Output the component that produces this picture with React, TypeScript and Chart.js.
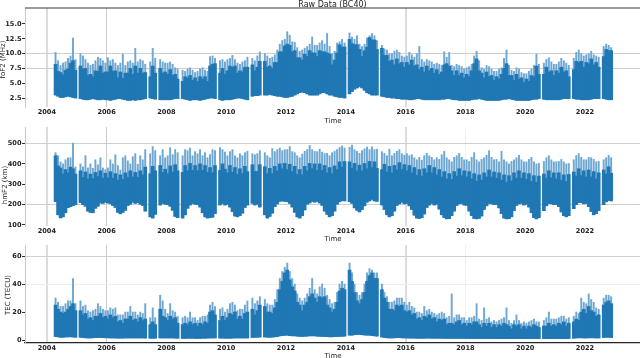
import React, { useEffect, useRef } from 'react';
import { Chart, registerables } from 'chart.js';

Chart.register(...registerables);

// ---------- categories / ticks ----------
const FIRST_YEAR = 2004;
const FIRST_MONTH = 4; // April 2004, monthly bins through Nov 2022
const YEAR_TICKS = [2004, 2006, 2008, 2010, 2012, 2014, 2016, 2018, 2020, 2022];
const FO_TICKS = [2.5, 5, 7.5, 10, 12.5, 15];
const HM_TICKS = [100, 200, 300, 400, 500];
const TEC_TICKS = [0, 20, 40, 60];

// ---------- foF2 (MHz): monthly low / dense top / spike top ----------
const FO_LO = [
  3.0, 2.8, 2.6, 2.6, 2.7, 2.8, 2.7, 2.6, 2.5,
  null, 2.4, 2.3, 2.2, 2.2, 2.3, 2.4, 2.3, 2.2, 2.2, 2.3, 2.2,
  2.2, 2.1, 2.2, 2.3, 2.4, 2.4, 2.3, 2.2, 2.1, 2.1, 2.2, 2.1,
  2.2, 2.2, 2.3, 2.4, null, 2.5, 2.4, 2.3, null, 2.2, 2.2, 2.2,
  2.2, 2.2, 2.3, 2.4, 2.4, null, 2.4, 2.3, 2.2, 2.1, 2.2, 2.2,
  2.2, 2.1, 2.2, 2.3, 2.4, 2.5, 2.5, 2.4, null, 2.2, 2.1, 2.2,
  2.2, 2.2, 2.3, 2.4, 2.5, 2.5, 2.4, 2.3, 2.2, null, 2.8, 2.9,
  2.9, 3.0, null, 3.0, 3.0, 3.1, 3.0, 2.9, 2.8, 2.8, 2.7, 2.6,
  2.6, 2.7, 2.8, 3.0, 3.2, 3.4, 3.5, 3.4, 3.2, 3.0, 3.0, 3.0,
  3.0, 3.2, 3.4, 3.4, 3.2, 3.0, 3.0, 2.8, 2.7, 2.6, 2.6, 2.5,
  null, 3.2, 3.6, 4.0, 4.2, 4.4, 4.2, 3.8, 3.4, 3.2, 3.0, 3.0,
  3.0, null, 2.8, 2.7, 2.6, 2.6, 2.5, 2.5, 2.4, 2.4, 2.3, 2.3,
  2.3, 2.2, 2.2, 2.3, 2.4, 2.4, 2.3, 2.2, 2.2, 2.2, 2.2, 2.2,
  2.2, 2.2, 2.3, 2.3, 2.4, 2.4, 2.3, 2.2, 2.2, 2.1, 2.1, 2.1,
  2.1, 2.1, 2.2, 2.3, 2.3, 2.4, 2.3, 2.2, 2.1, 2.1, 2.1, 2.1,
  2.1, 2.1, 2.2, 2.3, 2.3, 2.4, 2.3, 2.2, 2.1, 2.1, 2.1, 2.1,
  2.1, 2.1, 2.2, 2.3, 2.3, 2.4, null, 2.3, 2.2, 2.2, 2.2, 2.2,
  2.2, 2.2, 2.3, 2.4, 2.4, 2.4, null, 2.4, 2.3, 2.3, 2.2, 2.2,
  2.2, 2.2, 2.3, 2.4, 2.4, 2.4, null, 2.4, 2.3, 2.2, 2.2,
];
const FO_CORE = [
  8.2, 7.0, 6.8, 6.4, 7.2, 7.4, 8.4, 8.8, 7.2,
  null, 7.9, 7.4, 7.5, 6.3, 6.5, 6.1, 7.1, 7.0, 7.9, 6.7, 6.9,
  6.9, 7.9, 7.0, 7.1, 5.9, 6.9, 5.8, 6.7, 6.7, 7.5, 6.5, 7.9,
  6.7, 7.5, 6.7, 6.8, null, 6.1, 7.9, 6.7, null, 7.5, 6.7, 6.9,
  6.5, 7.3, 6.3, 6.5, 5.7, null, 5.3, 6.1, 5.9, 6.3, 5.5, 5.9,
  5.3, 6.1, 5.7, 6.1, 5.3, 7.9, 8.2, 8.3, null, 6.7, 7.5, 6.5,
  7.1, 7.9, 7.7, 7.9, 6.7, 7.1, 6.9, 7.7, 7.7, null, 8.1, 7.1,
  7.7, 8.7, null, 8.7, 7.7, 7.9, 7.5, 8.5, 8.5, 10.3, 10.3, 11.3,
  11.6, 11.4, 10.3, 10.5, 9.3, 9.3, 8.9, 9.9, 9.5, 10.5, 10.1, 10.1,
  9.5, 10.5, 10.3, 10.3, 10.1, 9.9, 8.1, 8.9, 10.1, 11.5, 11.1, 11.1,
  null, 12.4, 11.7, 11.5, 11.5, 10.7, 9.5, 10.5, 11.1, 12.7, 12.3, 12.3,
  10.7, null, 10.9, 9.7, 9.7, 8.7, 8.9, 8.1, 9.1, 8.3, 8.5, 7.7,
  8.5, 8.1, 8.9, 7.9, 8.1, 7.3, 7.7, 6.9, 7.9, 7.1, 7.5, 6.7,
  7.3, 6.5, 6.9, 8.1, 8.3, 7.9, 7.1, 6.3, 7.1, 6.3, 6.7, 5.9,
  6.5, 6.1, 7.1, 8.3, 9.1, 7.1, 6.7, 5.9, 6.9, 6.1, 6.3, 5.5,
  6.1, 5.7, 6.5, 7.5, 8.3, 6.3, 6.3, 5.5, 6.5, 5.7, 5.9, 5.1,
  5.7, 5.3, 6.3, 6.1, 7.9, 6.5, null, 6.5, 7.7, 6.9, 7.1, 6.3,
  7.1, 6.7, 7.7, 6.9, 7.1, 6.1, null, 7.3, 8.7, 8.5, 8.7, 7.7,
  8.5, 8.3, 9.1, 8.1, 8.5, 7.7, null, 9.5, 10.7, 10.5, 10.5,
];
const FO_PEAK = [
  10.2, 8.8, 8.0, 8.4, 8.6, 9.2, 9.6, 12.6, 9.0,
  null, 10.0, 9.6, 9.0, 8.4, 8.0, 8.2, 8.8, 9.4, 9.2, 8.8, 8.4,
  9.3, 8.8, 9.0, 8.4, 8.0, 8.4, 9.9, 8.0, 8.6, 8.8, 8.4, 10.9,
  8.6, 9.0, 8.8, 8.2, null, 8.6, 10.9, 9.2, null, 9.0, 8.6, 8.4,
  8.4, 8.6, 8.2, 7.6, 7.4, null, 7.2, 7.0, 7.4, 7.6, 7.2, 6.8,
  7.0, 7.4, 7.6, 7.2, 7.0, 9.5, 9.6, 9.2, null, 8.8, 9.0, 8.6,
  9.0, 9.2, 9.7, 9.0, 8.4, 8.2, 8.6, 8.8, 9.4, null, 9.2, 8.8,
  9.6, 10.3, null, 10.0, 9.6, 9.2, 9.4, 9.8, 10.6, 11.6, 12.2, 12.4,
  13.7, 13.1, 12.0, 11.9, 11.0, 10.4, 10.6, 10.9, 11.2, 11.6, 12.8, 11.4,
  11.4, 11.8, 12.2, 11.6, 13.4, 11.2, 10.0, 10.4, 11.8, 12.0, 12.4, 11.8,
  null, 13.5, 12.8, 12.4, 13.0, 11.6, 11.2, 11.6, 12.6, 13.0, 13.4, 13.0,
  12.2, null, 11.4, 10.8, 10.6, 10.0, 10.0, 10.4, 10.6, 10.2, 9.6, 9.4,
  9.6, 10.2, 9.8, 9.4, 10.0, 11.2, 9.0, 8.6, 9.0, 8.8, 8.6, 8.2,
  8.4, 8.2, 8.0, 10.3, 9.4, 10.2, 8.0, 7.8, 8.2, 8.0, 7.8, 7.4,
  7.6, 7.8, 8.2, 9.6, 10.4, 8.8, 7.6, 7.4, 8.0, 7.8, 7.4, 7.0,
  7.0, 7.4, 7.6, 9.2, 10.6, 8.0, 7.2, 7.0, 7.6, 7.4, 6.8, 6.6,
  6.6, 7.0, 7.4, 8.0, 9.9, 8.2, null, 8.4, 9.0, 9.3, 8.6, 8.2,
  8.2, 8.6, 9.2, 8.8, 8.4, 8.0, null, 9.2, 10.2, 10.6, 10.0, 9.6,
  9.8, 10.0, 10.4, 9.8, 9.6, 9.4, null, 11.2, 11.6, 11.4, 11.0,
];

// ---------- hmF2 (km) ----------
const HM_LO = [
  215, 150, 135, 140, 160, 185, 190, 195, 200,
  null, 210, 200, 192, 168, 162, 160, 182, 192, 208, 206, 212,
  208, 205, 196, 186, 162, 155, 162, 172, 196, 202, 212, 206,
  210, 202, 196, 168, null, 140, 134, 152, null, 198, 206, 202,
  200, 192, 172, 142, 136, null, 134, 150, 182, 198, 206, 202,
  200, 188, 160, 140, 134, 136, 138, 156, null, 198, 206, 198,
  202, 188, 166, 144, 140, 146, 158, 186, 198, null, 206, 198,
  202, 188, null, 150, 134, 142, 158, 190, 204, 216, 218, 216,
  214, 206, 188, 162, 140, 134, 146, 174, 202, 208, 216, 212,
  216, 208, 196, 168, 152, 140, 146, 168, 202, 214, 220, 218,
  null, 214, 206, 184, 172, 164, 176, 194, 212, 218, 226, 218,
  216, null, 198, 176, 150, 140, 146, 168, 196, 204, 212, 204,
  206, 194, 176, 148, 134, 132, 136, 154, 186, 198, 206, 198,
  202, 178, 150, 136, 130, 131, 146, 168, 196, 204, 206, 198,
  196, 168, 146, 132, 130, 133, 144, 176, 194, 206, 204, 200,
  200, 184, 156, 134, 130, 131, 140, 170, 196, 204, 206, 198,
  202, 188, 160, 136, 130, 136, null, 170, 194, 206, 204, 200,
  200, 190, 164, 146, 140, 146, null, 180, 200, 210, 210, 204,
  206, 190, 166, 150, 156, 170, null, 200, 214, 220, 218,
];
const HM_CORE = [
  440, 390, 380, 350, 372, 356, 384, 376, 350,
  null, 366, 334, 360, 326, 350, 328, 358, 338, 366, 330, 354,
  332, 362, 330, 352, 320, 346, 324, 356, 334, 366, 336, 358,
  334, 366, 346, 384, null, 352, 388, 366, null, 392, 358, 374,
  352, 390, 360, 396, 366, null, 358, 392, 366, 402, 368, 392,
  366, 400, 368, 392, 358, 382, 356, 392, null, 368, 400, 374,
  356, 392, 358, 382, 348, 376, 352, 388, 362, null, 396, 364,
  362, 396, null, 386, 352, 378, 352, 388, 366, 400, 376, 402,
  372, 398, 362, 388, 348, 372, 346, 388, 366, 402, 376, 400,
  368, 400, 368, 392, 356, 382, 352, 390, 372, 410, 384, 412,
  null, 410, 378, 402, 366, 394, 366, 402, 376, 412, 382, 410,
  378, null, 372, 398, 360, 388, 356, 392, 370, 406, 372, 396,
  366, 392, 356, 382, 344, 372, 340, 376, 356, 392, 356, 382,
  346, 372, 336, 362, 326, 352, 324, 362, 340, 376, 342, 366,
  336, 362, 326, 352, 316, 346, 320, 356, 336, 370, 336, 360,
  330, 356, 320, 346, 310, 342, 316, 356, 330, 366, 330, 356,
  324, 352, 314, 342, 310, 340, null, 350, 330, 366, 332, 356,
  326, 356, 320, 346, 314, 348, null, 360, 340, 376, 342, 366,
  336, 370, 336, 362, 326, 356, null, 370, 350, 386, 354,
];
const HM_PEAK = [
  455, 440, 410, 400, 420, 430, 430, 502, 385,
  null, 400, 385, 440, 380, 400, 378, 420, 395, 430, 380, 372,
  380, 420, 400, 445, 392, 370, 430, 440, 415, 400, 435, 450,
  398, 440, 420, 470, null, 450, 485, 465, null, 440, 470, 430,
  440, 480, 445, 470, 455, null, 440, 470, 465, 478, 440, 460,
  450, 470, 440, 455, 430, 445, 470, 465, null, 480, 470, 458,
  440, 460, 470, 440, 430, 450, 440, 455, 462, null, 450, 445,
  450, 465, null, 455, 440, 430, 475, 460, 470, 478, 465, 470,
  470, 485, 460, 455, 440, 430, 448, 462, 470, 490, 470, 462,
  460, 472, 458, 450, 452, 440, 455, 462, 470, 480, 488, 478,
  null, 482, 492, 470, 462, 452, 465, 474, 482, 470, 484, 470,
  472, null, 460, 452, 440, 472, 440, 452, 462, 470, 450, 442,
  450, 440, 445, 430, 420, 432, 418, 440, 452, 440, 432, 420,
  430, 422, 445, 462, 430, 420, 410, 432, 440, 452, 432, 420,
  420, 412, 432, 455, 420, 410, 422, 430, 442, 465, 432, 420,
  422, 410, 462, 420, 410, 400, 412, 420, 430, 442, 420, 410,
  410, 422, 432, 410, 400, 402, null, 412, 430, 440, 420, 410,
  410, 412, 422, 410, 400, 402, null, 420, 440, 450, 432, 420,
  420, 432, 430, 422, 410, 412, null, 420, 430, 442, 430,
];

// ---------- TEC (TECU) ----------
const TEC_LO = [
  2.5, 2.3, 2.0, 2.0, 2.2, 2.3, 2.3, 2.2, 2.0,
  null, 2.0, 1.8, 1.6, 1.5, 1.5, 1.6, 1.7, 1.8, 1.8, 1.7, 1.6,
  1.6, 1.5, 1.5, 1.5, 1.4, 1.4, 1.4, 1.5, 1.5, 1.5, 1.5, 1.5,
  1.5, 1.5, 1.5, 1.4, null, 1.3, 1.3, 1.3, null, 1.5, 1.5, 1.5,
  1.5, 1.5, 1.5, 1.4, 1.3, null, 1.2, 1.2, 1.3, 1.3, 1.3, 1.2,
  1.2, 1.2, 1.3, 1.3, 1.4, 1.5, 1.5, 1.5, null, 1.4, 1.4, 1.3,
  1.3, 1.3, 1.4, 1.5, 1.5, 1.5, 1.5, 1.5, 1.5, null, 1.8, 2.0,
  2.0, 2.2, null, 2.2, 2.0, 2.0, 2.1, 2.3, 2.5, 3.0, 3.2, 3.4,
  3.5, 3.2, 3.0, 3.0, 2.8, 2.6, 2.6, 2.7, 2.8, 3.0, 3.0, 3.0,
  2.8, 2.7, 2.6, 2.5, 2.4, 2.3, 2.3, 2.4, 2.5, 2.6, 2.7, 2.8,
  null, 3.5, 3.5, 3.8, 4.0, 4.0, 3.8, 3.6, 3.5, 3.5, 3.2, 3.0,
  2.8, null, 2.2, 1.8, 1.6, 1.5, 1.5, 1.6, 1.7, 1.7, 1.6, 1.5,
  1.5, 1.4, 1.4, 1.4, 1.3, 1.3, 1.3, 1.3, 1.4, 1.4, 1.3, 1.3,
  1.3, 1.3, 1.3, 1.2, 1.2, 1.2, 1.2, 1.2, 1.2, 1.2, 1.2, 1.2,
  1.1, 1.1, 1.1, 1.1, 1.1, 1.1, 1.1, 1.1, 1.1, 1.1, 1.1, 1.1,
  1.0, 1.0, 1.0, 1.0, 1.0, 1.0, 1.0, 1.0, 1.0, 1.0, 1.0, 1.0,
  1.0, 1.0, 1.0, 1.0, 1.0, 1.0, null, 1.0, 1.0, 1.0, 1.0, 1.0,
  1.0, 1.0, 1.0, 1.1, 1.1, 1.1, null, 1.3, 1.5, 1.6, 1.6, 1.5,
  1.5, 1.6, 1.6, 1.6, 1.5, 1.5, null, 1.8, 2.0, 2.0, 1.8,
];
const TEC_CORE = [
  25, 22, 20, 19, 20, 22, 24, 26, 21,
  null, 21, 18, 19, 15, 16, 14, 17, 17, 19, 16, 17,
  15, 18, 16, 17, 13, 14, 12, 15, 15, 17, 14, 15,
  13, 16, 14, 15, null, 11, 13, 11, null, 22, 17, 16,
  14, 17, 15, 16, 12, null, 11, 12, 11, 13, 11, 12,
  10, 12, 11, 13, 12, 20, 21, 18, null, 14, 17, 14,
  16, 19, 18, 20, 15, 17, 15, 19, 20, null, 22, 18,
  21, 25, null, 24, 20, 20, 19, 23, 27, 36, 42, 48,
  50, 43, 38, 35, 27, 25, 21, 25, 27, 31, 33, 30,
  27, 31, 30, 31, 25, 23, 20, 22, 27, 35, 37, 36,
  null, 50, 42, 34, 28, 26, 29, 34, 42, 46, 48, 44,
  44, null, 36, 30, 27, 22, 22, 21, 25, 24, 25, 21,
  20, 21, 18, 19, 15, 16, 14, 17, 16, 18, 15, 16,
  13, 15, 14, 15, 11, 12, 12, 11, 13, 14, 11, 12,
  10, 12, 11, 13, 13, 11, 9, 12, 10, 12, 9, 11,
  9, 11, 10, 12, 11, 10, 8, 11, 10, 11, 8, 10,
  8, 10, 9, 11, 10, 9, null, 10, 10, 12, 10, 11,
  10, 12, 11, 13, 10, 12, null, 13, 15, 14, 20, 22,
  19, 24, 21, 20, 17, 18, null, 25, 27, 28, 26,
];
const TEC_PEAK = [
  30, 27, 24, 24, 26, 28, 28, 44, 26,
  null, 28, 24, 25, 21, 20, 21, 22, 26, 24, 22, 21,
  21, 23, 22, 23, 18, 18, 18, 20, 20, 24, 20, 20,
  18, 20, 19, 26, null, 16, 23, 16, null, 32, 28, 22,
  19, 26, 21, 20, 17, null, 16, 17, 16, 20, 16, 16,
  14, 16, 17, 17, 18, 25, 27, 24, null, 22, 23, 20,
  22, 26, 27, 25, 21, 22, 22, 25, 28, null, 30, 26,
  28, 31, null, 29, 26, 25, 25, 29, 36, 44, 49, 52,
  55, 49, 44, 40, 33, 30, 28, 30, 33, 37, 44, 36,
  33, 38, 40, 37, 32, 29, 26, 27, 34, 40, 42, 40,
  null, 55, 48, 40, 34, 32, 34, 40, 48, 51, 50, 48,
  48, null, 40, 34, 31, 27, 27, 28, 30, 30, 30, 27,
  25, 27, 24, 23, 20, 20, 19, 24, 21, 22, 20, 19,
  18, 19, 20, 19, 16, 17, 33, 16, 18, 18, 16, 16,
  14, 16, 16, 17, 26, 15, 14, 23, 15, 16, 13, 14,
  13, 14, 15, 16, 23, 14, 12, 14, 18, 14, 12, 13,
  12, 13, 14, 15, 13, 13, null, 14, 16, 20, 15, 15,
  15, 16, 17, 17, 15, 16, null, 17, 20, 19, 30, 27,
  26, 33, 29, 27, 23, 22, null, 30, 32, 32, 31,
];

// ---------- styling ----------
const DARK = '#1f77b4';
const LIGHT = '#6fa8d3';
const TICK_FONT = { family: 'DejaVu Sans', weight: 'bold' as const, size: 6.6 };
const X_GRID: Record<string, [string, number]> = {
  '2004': ['#dcdcdc', 2],
  '2006': ['#cccccc', 1],
  '2016': ['#dcdcdc', 2],
  '2018': ['#eeeeee', 1],
};

function monthX(i: number) {
  return FIRST_YEAR + (FIRST_MONTH - 1 + i + 0.5) / 12;
}

function floatBars(lo: (number | null)[], hi: (number | null)[]) {
  const out: { x: number; y: [number, number] }[] = [];
  for (let i = 0; i < lo.length; i++) {
    const a = lo[i];
    const b = hi[i];
    if (a == null || b == null) continue;
    out.push({ x: monthX(i), y: [a, b] });
  }
  return out;
}

type TextItem = { text: string; x: number; y: number; font: string; rotate?: boolean };

type Panel = {
  height: number;
  padTop: number;
  axisH: number;
  yMin: number;
  yMax: number;
  yTicks: number[];
  yFmt: (v: number) => string;
  yGrid: Record<string, string>;
  lo: (number | null)[];
  core: (number | null)[];
  peak: (number | null)[];
  topLine: boolean;
  bottomSpine: boolean;
  texts: TextItem[];
};

const PANELS: Panel[] = [
  {
    height: 124, padTop: 8, axisH: 17, yMin: 0.98, yMax: 17.7,
    yTicks: FO_TICKS, yFmt: (v) => v.toFixed(1),
    yGrid: { '10': '#cfcfcf', '7.5': '#cfcfcf' },
    lo: FO_LO, core: FO_CORE, peak: FO_PEAK, topLine: true, bottomSpine: false,
    texts: [
      { text: 'Raw Data (BC40)', x: 332.5, y: 4.5, font: '8px "DejaVu Sans"' },
      { text: 'Time', x: 333, y: 121, font: '7px "DejaVu Sans"' },
      { text: 'foF2 (MHz)', x: 3.5, y: 59.5, font: '7px "DejaVu Sans"', rotate: true },
    ],
  },
  {
    height: 119, padTop: 3, axisH: 17, yMin: 95, yMax: 581,
    yTicks: HM_TICKS, yFmt: (v) => String(v),
    yGrid: { '500': '#cfcfcf', '200': '#cfcfcf' },
    lo: HM_LO, core: HM_CORE, peak: HM_PEAK, topLine: false, bottomSpine: false,
    texts: [
      { text: 'Time', x: 333, y: 115, font: '7px "DejaVu Sans"' },
      { text: 'hmF2 (km)', x: 5, y: 61, font: '7px "DejaVu Sans"', rotate: true },
    ],
  },
  {
    height: 115, padTop: 2, axisH: 15, yMin: -2.1, yMax: 67.9,
    yTicks: TEC_TICKS, yFmt: (v) => String(v),
    yGrid: { '60': '#d0d0d0', '40': '#eeeeee' },
    lo: TEC_LO, core: TEC_CORE, peak: TEC_PEAK, topLine: false, bottomSpine: true,
    texts: [
      { text: 'Time', x: 333, y: 113, font: '7px "DejaVu Sans"' },
      { text: 'TEC (TECU)', x: 8.5, y: 52, font: '7px "DejaVu Sans"', rotate: true },
    ],
  },
];

const panelTextPlugin = {
  id: 'panelText',
  afterDraw(chart: any, _args: any, opts: any) {
    const ctx = chart.ctx as CanvasRenderingContext2D;
    const area = chart.chartArea;
    if (opts.topLine) {
      ctx.save();
      ctx.strokeStyle = '#3a3a3a';
      ctx.lineWidth = 1.2;
      ctx.beginPath();
      ctx.moveTo(area.left, area.top);
      ctx.lineTo(area.right, area.top);
      ctx.stroke();
      ctx.restore();
    }
    for (const t of opts.items as TextItem[]) {
      ctx.save();
      ctx.font = t.font;
      ctx.fillStyle = '#262626';
      ctx.textAlign = 'center';
      ctx.textBaseline = 'middle';
      ctx.translate(t.x, t.y);
      if (t.rotate) ctx.rotate(-Math.PI / 2);
      ctx.fillText(t.text, 0, 0);
      ctx.restore();
    }
  },
};

function makeConfig(p: Panel): any {
  return {
    type: 'bar',
    data: {
      datasets: [
        {
          label: 'spikes',
          data: floatBars(p.lo, p.peak),
          backgroundColor: LIGHT,
          order: 2,
          borderWidth: 0,
          barThickness: 1.3,
          grouped: false,
        },
        {
          label: 'values',
          data: floatBars(p.lo, p.core),
          backgroundColor: DARK,
          order: 1,
          borderWidth: 0,
          barThickness: 3,
          grouped: false,
        },
      ],
    },
    plugins: [panelTextPlugin],
    options: {
      responsive: false,
      animation: false,
      devicePixelRatio: 1,
      events: [],
      layout: { padding: { top: p.padTop, left: 0, right: 0, bottom: 0 } },
      plugins: {
        legend: { display: false },
        tooltip: { enabled: false },
        title: { display: false },
        panelText: { items: p.texts, topLine: p.topLine },
      },
      scales: {
        x: {
          type: 'linear',
          min: 2003.27,
          max: 2023.84,
          offset: false,
          afterBuildTicks: (s: any) => {
            s.ticks = YEAR_TICKS.map((v) => ({ value: v }));
          },
          afterFit: (s: any) => {
            s.height = p.axisH;
            s.paddingLeft = 0;
            s.paddingRight = 0;
          },
          ticks: {
            autoSkip: false,
            maxRotation: 0,
            minRotation: 0,
            padding: 1,
            color: '#222',
            font: TICK_FONT,
            callback: (v: number) => String(v),
          },
          grid: {
            offset: false,
            drawTicks: false,
            color: (ctx: any) => {
              const g = ctx.tick ? X_GRID[String(ctx.tick.value)] : undefined;
              return g ? g[0] : 'rgba(0,0,0,0)';
            },
            lineWidth: (ctx: any) => {
              const g = ctx.tick ? X_GRID[String(ctx.tick.value)] : undefined;
              return g ? g[1] : 1;
            },
          },
          border: { display: p.bottomSpine, color: '#262626', width: 1.2 },
        },
        y: {
          type: 'linear',
          min: p.yMin,
          max: p.yMax,
          afterBuildTicks: (s: any) => {
            s.ticks = p.yTicks.map((v) => ({ value: v }));
          },
          afterFit: (s: any) => {
            s.width = 25;
            s.paddingTop = 0;
            s.paddingBottom = 0;
          },
          ticks: {
            padding: 0.5,
            color: '#222',
            font: TICK_FONT,
            callback: (v: number) => p.yFmt(v),
          },
          grid: {
            drawTicks: true,
            tickLength: 3,
            tickColor: '#333',
            tickWidth: 1,
            lineWidth: 1,
            color: (ctx: any) => (ctx.tick && p.yGrid[String(ctx.tick.value)]) || 'rgba(0,0,0,0)',
          },
          border: { display: true, color: '#c8c8c8', width: 1 },
        },
      },
    },
  };
}

export default function App() {
  const refs = useRef<(HTMLCanvasElement | null)[]>([]);

  useEffect(() => {
    document.body.style.margin = '0';
    const charts: Chart[] = [];
    PANELS.forEach((p, k) => {
      const el = refs.current[k];
      if (el) charts.push(new Chart(el, makeConfig(p)));
    });
    return () => {
      charts.forEach((c) => c.destroy());
    };
  }, []);

  return (
    <div style={{ width: 640, height: 358, overflow: 'hidden', background: '#fff' }}>
      {PANELS.map((p, k) => (
        <canvas
          key={k}
          ref={(el) => {
            refs.current[k] = el;
          }}
          width={640}
          height={p.height}
          style={{ display: 'block', width: 640, height: p.height }}
        />
      ))}
    </div>
  );
}
